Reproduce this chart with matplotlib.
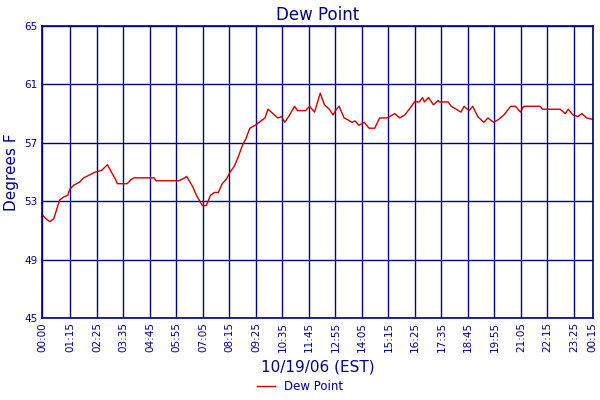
import matplotlib
matplotlib.use("Agg")
import matplotlib.pyplot as plt

minutes = [0,10,21,31,42,47,58,68,73,84,99,110,126,141,157,173,183,194,199,225,236,243,296,301,361,377,382,398,408,419,424,434,445,455,466,476,487,497,508,518,529,539,549,563,589,597,610,623,633,641,654,667,675,696,707,720,735,746,759,769,775,785,798,806,819,827,837,851,864,879,892,911,932,945,958,976,984,997,1005,1010,1021,1034,1047,1049,1073,1081,1094,1107,1115,1128,1138,1151,1167,1178,1193,1206,1220,1238,1251,1264,1272,1316,1322,1369,1382,1390,1403,1416,1426,1439,1455]
dew = [52.1,51.8,51.6,51.8,52.7,53.1,53.3,53.4,53.8,54.1,54.3,54.6,54.8,55.0,55.1,55.5,55.0,54.5,54.2,54.2,54.5,54.6,54.6,54.4,54.4,54.6,54.7,54.0,53.4,52.9,52.7,52.7,53.4,53.6,53.6,54.2,54.5,55.0,55.4,56.0,56.8,57.3,58.0,58.2,58.7,59.3,59.0,58.7,58.8,58.4,58.9,59.5,59.2,59.2,59.5,59.1,60.4,59.6,59.3,58.9,59.2,59.5,58.7,58.6,58.4,58.5,58.2,58.4,58.0,58.0,58.7,58.7,59.0,58.7,58.9,59.5,59.8,59.8,60.1,59.8,60.1,59.6,59.9,59.8,59.8,59.5,59.3,59.1,59.5,59.2,59.5,58.8,58.4,58.7,58.4,58.6,58.9,59.5,59.5,59.1,59.5,59.5,59.3,59.3,59.0,59.3,58.9,58.8,59.0,58.7,58.6]
tick_minutes = [0,75,145,215,285,355,425,495,565,635,705,775,845,915,985,1055,1125,1195,1265,1335,1405,1455]
tick_labels = ["00:00","01:15","02:25","03:35","04:45","05:55","07:05","08:15","09:25","10:35","11:45","12:55","14:05","15:15","16:25","17:35","18:45","19:55","21:05","22:15","23:25","00:15"]
y_ticks = [45,49,53,57,61,65]

navy = "#000080"
fig = plt.figure(figsize=(6,4), dpi=100)
ax = fig.add_axes([0.07, 0.205, 0.918, 0.73])
ax.plot(minutes, dew, color="#cc0000", lw=1, label="Dew Point")
ax.set_xlim(0, 1455)
ax.set_ylim(45, 65)
ax.set_xticks(tick_minutes)
ax.set_xticklabels(tick_labels, rotation=90, fontsize=7.5, color=navy)
ax.set_yticks(y_ticks)
ax.set_yticklabels([str(v) for v in y_ticks], fontsize=7.5, color=navy)
ax.grid(True, color=navy, lw=1)
ax.tick_params(length=0, pad=3)
for s in ax.spines.values():
    s.set_color(navy); s.set_linewidth(1.2)
ax.set_title("Dew Point", color=navy, fontsize=12, pad=4)
ax.set_ylabel("Degrees F", color=navy, fontsize=11, labelpad=4)
ax.set_xlabel("10/19/06 (EST)", color=navy, fontsize=11, labelpad=5)
leg = fig.legend(loc="lower center", bbox_to_anchor=(0.5, -0.01), frameon=False, fontsize=8.5, handlelength=1.5)
for t in leg.get_texts():
    t.set_color(navy)
fig.savefig("out.png", dpi=100)
